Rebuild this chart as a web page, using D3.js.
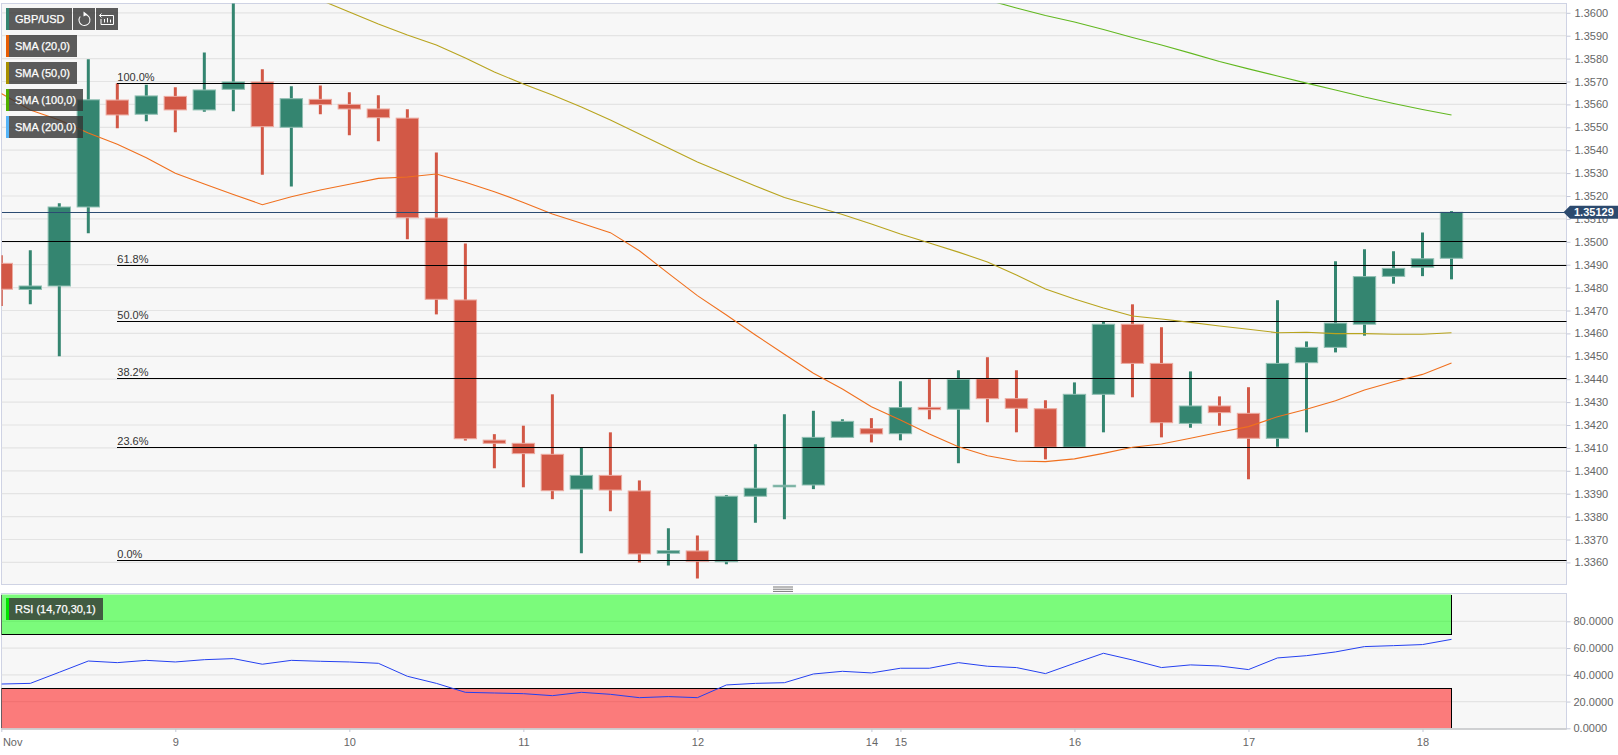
<!DOCTYPE html>
<html>
<head>
<meta charset="utf-8">
<script src="https://cdn.jsdelivr.net/npm/d3@7"></script>
<style>
    html, body { margin: 0; padding: 0; background: #fff; overflow: hidden; }
    svg { display: block; font-family: "Liberation Sans", Arial, sans-serif; }
    .axis path { display: none; }
    .axis line { stroke: #c4c8d8; }
    .axis text { fill: #666; font-size: 11px; font-family: "Liberation Sans", Arial, sans-serif; }
    .legend-text { fill: #fff; font-size: 11px; stroke: #fff; stroke-width: 0.25px; }
    .fib-label { fill: #333; font-size: 11px; }
</style>
</head>
<body>
<div id="chart"></div>
<script>
const opens = [1.34906, 1.34792, 1.34807, 1.35152, 1.35619, 1.35557, 1.35635, 1.35576, 1.35666, 1.35698,
    1.3550, 1.35622, 1.3560, 1.3558, 1.3554, 1.35104, 1.34746, 1.34134, 1.3412, 1.34072,
    1.3392, 1.3398, 1.33912, 1.3364, 1.3365, 1.33603, 1.33889, 1.3393, 1.33938, 1.34146,
    1.34184, 1.34162, 1.34277, 1.34269, 1.34402, 1.34315, 1.34271, 1.34103, 1.34334, 1.3464,
    1.34469, 1.34207, 1.34283, 1.34251, 1.34142, 1.34472, 1.34539, 1.3464, 1.34849, 1.34889, 1.34928];
const closes = [1.34793, 1.34807, 1.35152, 1.3562, 1.35554, 1.35637, 1.35576, 1.35663, 1.35698, 1.35503,
    1.35625, 1.35599, 1.3558, 1.35542, 1.35105, 1.34749, 1.3414, 1.3412, 1.34075, 1.33913,
    1.3398, 1.33916, 1.33637, 1.33651, 1.33605, 1.33889, 1.33924, 1.33937, 1.34146, 1.34216,
    1.34161, 1.34276, 1.34267, 1.3440, 1.34315, 1.34273, 1.34103, 1.34334, 1.3464, 1.34469,
    1.3421, 1.34283, 1.34254, 1.34142, 1.34469, 1.34539, 1.34645, 1.34848, 1.34884, 1.34926, 1.35129];
const highs = [1.34941, 1.34963, 1.35168, 1.35797, 1.35692, 1.35686, 1.35675, 1.35827, 1.3606, 1.35753,
    1.35679, 1.35683, 1.35653, 1.3564, 1.35579, 1.3539, 1.34993, 1.3416, 1.34197, 1.34334,
    1.34101, 1.34168, 1.33958, 1.33749, 1.33718, 1.33894, 1.34116, 1.34247, 1.34262, 1.34225,
    1.3423, 1.34391, 1.3440, 1.34439, 1.34496, 1.34439, 1.34308, 1.34386, 1.34651, 1.34727,
    1.34627, 1.34434, 1.34325, 1.34365, 1.34745, 1.34565, 1.34915, 1.34967, 1.34959, 1.35041, 1.35135];
const lows = [1.3472, 1.34727, 1.3450, 1.35037, 1.35496, 1.35526, 1.35478, 1.35568, 1.3557, 1.35293,
    1.35242, 1.35557, 1.35465, 1.35439, 1.35011, 1.34683, 1.34132, 1.34011, 1.33928, 1.33876,
    1.3364, 1.33823, 1.3360, 1.33587, 1.3353, 1.33592, 1.33773, 1.33788, 1.3392, 1.34146,
    1.34124, 1.34133, 1.34225, 1.34033, 1.34212, 1.34168, 1.3405, 1.34103, 1.34168, 1.34321,
    1.34146, 1.34188, 1.34197, 1.33963, 1.34105, 1.34168, 1.34517, 1.3459, 1.34817, 1.3485, 1.34836];

const sma20 = [1.35648, 1.35576, 1.35532, 1.35475, 1.35426, 1.35367, 1.35299, 1.35252, 1.35207, 1.35162,
    1.35197, 1.35226, 1.35251, 1.35277, 1.35283, 1.35296, 1.3526, 1.35219, 1.35172, 1.35121,
    1.35081, 1.3504, 1.34961, 1.34862, 1.34765, 1.3468, 1.34593, 1.34509, 1.34426, 1.34357,
    1.3428, 1.34222, 1.34161, 1.34105, 1.34066, 1.34043, 1.3404, 1.34052, 1.34076, 1.34103,
    1.34117, 1.34142, 1.34168, 1.34193, 1.34236, 1.34269, 1.34306, 1.34353, 1.34389, 1.34421, 1.34471];
// sma50 starts at candle 11, sma100 at candle 34, earlier values are above the visible range
const sma50Start = 11;
const sma50 = [1.36056, 1.36003, 1.35951, 1.35903, 1.35859, 1.35803, 1.35741, 1.35689, 1.35641,
    1.35589, 1.35532, 1.35471, 1.3541, 1.35348, 1.35296, 1.35244, 1.35193, 1.35156, 1.35119,
    1.35078, 1.35034, 1.34995, 1.34955, 1.34912, 1.34855, 1.34794, 1.3475, 1.34711, 1.34676,
    1.34663, 1.34648, 1.34632, 1.34618, 1.34603, 1.34605, 1.34599, 1.34599, 1.34596, 1.34596, 1.34603];
const sma100Start = 34;
const sma100 = [1.36056, 1.36021, 1.35988, 1.3596, 1.35927, 1.35892, 1.35859, 1.35824, 1.35787,
    1.35755, 1.35724, 1.35693, 1.35663, 1.35632, 1.35604, 1.35578, 1.35554];

const rsi = [33.1, 33.6, 41.9, 50.3, 49.1, 50.8, 49.6, 51.3, 52.1, 47.9,
    50.8, 50.1, 49.6, 48.6, 38.9, 33.6, 26.9, 26.4, 25.9, 24.4,
    26.9, 25.4, 22.9, 23.7, 22.9, 32.4, 33.6, 34.1, 40.6, 42.6,
    41.4, 44.9, 44.9, 49.1, 46.4, 45.4, 40.9, 48.6, 56.1, 51.1,
    45.4, 47.4, 46.6, 43.9, 52.6, 54.3, 57.1, 61.1, 61.8, 62.6, 66.5];

const fibLabels = ['100.0%', '61.8%', '50.0%', '38.2%', '23.6%', '0.0%'];
const fibLevels = [1.35692, 1.34897, 1.34653, 1.34402, 1.34103, 1.3361];
const fibStartCandle = 4;
const roundLevel = 1.3500;
const lastPrice = 1.35129;

const dateCandles = [0, 6, 12, 18, 24, 30, 31, 37, 43, 49];
const dateLabels = ['Nov', '9', '10', '11', '12', '14', '15', '16', '17', '18'];
const priceTicks = d3.range(1336, 1361).map(d => d / 1000);
const rsiTicks = [0, 20, 40, 60, 80];

const legendNames = ['SMA (20,0)', 'SMA (50,0)', 'SMA (100,0)', 'SMA (200,0)'];
const legendColors = ['#e85d04', '#a89000', '#4fb000', '#55b4f8'];

const up = '#348570';
const down = '#d25846';

function createChart() {
    const svg = d3.select('#chart').append('svg')
        .attr('width', 1618)
        .attr('height', 755);

    const plot = { left: 1.5, right: 1566.5, top: 3.5, bottom: 584.5 };
    const lower = { top: 593.5, bottom: 729 };

    const x = d3.scaleLinear().domain([0, 50]).range([1.3, 1451.5]);
    const y = d3.scaleLinear().domain([1.336, 1.36]).range([562.4, 12.8]);
    const yRsi = d3.scaleLinear().domain([0, 80]).range([728.3, 621.3]);

    const defs = svg.append('defs');
    defs.append('clipPath').attr('id', 'mainClip').append('rect')
        .attr('x', plot.left).attr('y', plot.top)
        .attr('width', plot.right - plot.left).attr('height', plot.bottom - plot.top);
    defs.append('clipPath').attr('id', 'rsiClip').append('rect')
        .attr('x', plot.left).attr('y', lower.top)
        .attr('width', plot.right - plot.left).attr('height', lower.bottom - lower.top);

    // Panel backgrounds
    svg.append('rect')
        .attr('x', plot.left).attr('y', plot.top)
        .attr('width', plot.right - plot.left).attr('height', plot.bottom - plot.top)
        .attr('fill', '#f7f7f7').attr('stroke', '#cfd3e4');
    svg.append('rect')
        .attr('x', plot.left).attr('y', lower.top)
        .attr('width', plot.right - plot.left).attr('height', lower.bottom - lower.top)
        .attr('fill', '#f7f7f7').attr('stroke', '#cfd3e4');

    const main = svg.append('g').attr('clip-path', 'url(#mainClip)');

    // Grid
    main.selectAll('.grid')
        .data(priceTicks)
        .enter().append('line')
        .attr('x1', plot.left).attr('x2', plot.right)
        .attr('y1', d => y(d)).attr('y2', d => y(d))
        .attr('stroke', '#e4e4e4').attr('stroke-width', 1.2);

    // Candles
    const candles = main.selectAll('.candle')
        .data(opens.map((o, i) => ({ i, o, c: closes[i], h: highs[i], l: lows[i] })))
        .enter().append('g');

    candles.append('line')
        .attr('x1', d => x(d.i)).attr('x2', d => x(d.i))
        .attr('y1', d => y(d.h)).attr('y2', d => y(d.l))
        .attr('stroke', d => d.c >= d.o ? up : down)
        .attr('stroke-width', 3);

    candles.append('rect')
        .attr('x', d => x(d.i) - 11.2)
        .attr('width', 22.4)
        .attr('y', d => y(Math.max(d.o, d.c)))
        .attr('height', d => Math.abs(y(d.o) - y(d.c)))
        .attr('fill', d => d.c >= d.o ? up : down)
        .attr('stroke', d => d.c >= d.o ? '#8fbfb2' : '#ecaaa0')
        .attr('stroke-width', 1);

    // Fibonacci levels
    main.selectAll('.fib')
        .data(fibLevels)
        .enter().append('line')
        .attr('x1', x(fibStartCandle)).attr('x2', plot.right)
        .attr('y1', d => y(d)).attr('y2', d => y(d))
        .attr('stroke', '#000').attr('stroke-width', 1)
        .attr('shape-rendering', 'crispEdges');

    svg.selectAll('.fib-label')
        .data(fibLabels)
        .enter().append('text')
        .attr('class', 'fib-label')
        .attr('x', x(fibStartCandle))
        .attr('y', (d, i) => y(fibLevels[i]) - 2.5)
        .text(d => d);

    main.append('line')
        .attr('x1', plot.left).attr('x2', plot.right)
        .attr('y1', y(roundLevel)).attr('y2', y(roundLevel))
        .attr('stroke', '#000').attr('stroke-width', 1)
        .attr('shape-rendering', 'crispEdges');

    // Moving averages
    const line = d3.line().x(d => x(d.i)).y(d => y(d.v));
    const series = [
        { start: 0, values: sma20, color: '#f0701e' },
        { start: sma50Start, values: sma50, color: '#b8a41e' },
        { start: sma100Start, values: sma100, color: '#62b820' }
    ];
    series.forEach(s => {
        main.append('path')
            .datum(s.values.map((v, k) => ({ i: s.start + k, v })))
            .attr('fill', 'none')
            .attr('stroke', s.color)
            .attr('stroke-width', 1.1)
            .attr('d', line);
    });

    // Last price line
    main.append('line')
        .attr('x1', plot.left).attr('x2', plot.right)
        .attr('y1', y(lastPrice)).attr('y2', y(lastPrice))
        .attr('stroke', '#2b4b72').attr('stroke-width', 1)
        .attr('shape-rendering', 'crispEdges');

    // Axes
    svg.append('g')
        .attr('class', 'axis')
        .attr('transform', `translate(${plot.right},0)`)
        .call(d3.axisRight(y).tickValues(priceTicks).tickFormat(d3.format('.4f')).tickSize(4).tickPadding(4));

    svg.append('g')
        .attr('class', 'axis')
        .attr('transform', `translate(${plot.right},0)`)
        .call(d3.axisRight(yRsi).tickValues(rsiTicks).tickFormat(d3.format('.4f')).tickSize(4).tickPadding(3));

    const xAxis = svg.append('g')
        .attr('class', 'axis')
        .attr('transform', `translate(0,${lower.bottom})`)
        .call(d3.axisBottom(x).tickValues(dateCandles)
            .tickFormat((d, i) => dateLabels[i]).tickSize(3).tickPadding(6));
    xAxis.selectAll('text').filter((d, i) => i === 0)
        .attr('text-anchor', 'start')
        .attr('dx', '0.1em');

    // Last price tag
    const tagY = y(lastPrice);
    svg.append('path')
        .attr('d', `M1563.5,${tagY} L1570,${tagY - 6.5} H1618 V${tagY + 6.5} H1570 Z`)
        .attr('fill', '#2c4a6e');
    svg.append('text')
        .attr('x', 1574)
        .attr('y', tagY + 4)
        .attr('fill', '#fff')
        .attr('font-size', 11)
        .attr('font-weight', 'bold')
        .text(d3.format('.5f')(lastPrice));

    // RSI panel
    const rsiPanel = svg.append('g').attr('clip-path', 'url(#rsiClip)');
    rsiPanel.selectAll('.rsi-grid')
        .data(rsiTicks.slice(1))
        .enter().append('line')
        .attr('x1', plot.left).attr('x2', plot.right)
        .attr('y1', d => yRsi(d)).attr('y2', d => yRsi(d))
        .attr('stroke', '#e4e4e4').attr('stroke-width', 1.2);

    const bandRight = x(50);
    rsiPanel.append('rect')
        .attr('x', plot.left).attr('y', yRsi(100))
        .attr('width', bandRight - plot.left).attr('height', yRsi(70) - yRsi(100))
        .attr('fill', '#00ff00').attr('opacity', 0.5);
    rsiPanel.append('rect')
        .attr('x', plot.left).attr('y', yRsi(30))
        .attr('width', bandRight - plot.left).attr('height', yRsi(0) - yRsi(30))
        .attr('fill', '#ff0000').attr('opacity', 0.5);

    const bandEdge = d3.path();
    bandEdge.moveTo(plot.left, yRsi(100));
    bandEdge.lineTo(plot.left, yRsi(70));
    bandEdge.lineTo(bandRight, yRsi(70));
    bandEdge.lineTo(bandRight, yRsi(100));
    bandEdge.moveTo(plot.left, yRsi(0));
    bandEdge.lineTo(plot.left, yRsi(30));
    bandEdge.lineTo(bandRight, yRsi(30));
    bandEdge.lineTo(bandRight, yRsi(0));
    rsiPanel.append('path')
        .attr('d', bandEdge.toString())
        .attr('fill', 'none')
        .attr('stroke', '#000')
        .attr('stroke-width', 1)
        .attr('shape-rendering', 'crispEdges');

    rsiPanel.append('path')
        .datum(rsi)
        .attr('fill', 'none')
        .attr('stroke', '#2440f0')
        .attr('stroke-width', 1)
        .attr('d', d3.line().x((d, i) => x(i)).y(d => yRsi(d)));

    svg.append('line')
        .attr('x1', plot.left).attr('x2', plot.right)
        .attr('y1', lower.bottom).attr('y2', lower.bottom)
        .attr('stroke', '#c8c8c8').attr('stroke-width', 1.5);

    // Splitter handle
    [587, 589.2, 591.4].forEach(v => {
        svg.append('line')
            .attr('x1', 773).attr('x2', 793)
            .attr('y1', v).attr('y2', v)
            .attr('stroke', '#777').attr('stroke-width', 1);
    });

    drawLegend(svg);
}

function drawLegend(svg) {
    const boxFill = 'rgba(51,51,51,0.8)';

    // Symbol row with its two buttons
    svg.append('rect').attr('x', 6).attr('y', 8).attr('width', 3).attr('height', 22).attr('fill', up);
    svg.append('rect').attr('x', 9).attr('y', 8).attr('width', 63).attr('height', 22).attr('fill', boxFill);
    svg.append('text').attr('class', 'legend-text').attr('x', 15).attr('y', 23).text('GBP/USD');
    svg.append('rect').attr('x', 73).attr('y', 8).attr('width', 22).attr('height', 22).attr('fill', boxFill);
    svg.append('rect').attr('x', 96).attr('y', 8).attr('width', 22).attr('height', 22).attr('fill', boxFill);

    const refresh = d3.arc()({ innerRadius: 5, outerRadius: 6, startAngle: 0.1, endAngle: 5.4 });
    svg.append('path')
        .attr('transform', 'translate(84.5,20)')
        .attr('d', refresh)
        .attr('fill', '#fff');
    svg.append('path')
        .attr('d', 'M83.5,11.5 L87.5,14.5 L83.5,16.5 Z')
        .attr('fill', '#fff');

    svg.append('path')
        .attr('d', 'M103,15.5 H113.5 V24.5 H101 V19 M99.5,15.5 H103 M101.5,13.5 L99.5,15.5 L101.5,17.5 M104.5,19 V22.5 M107.5,18 V22.5 M110.5,19.5 V22.5')
        .attr('fill', 'none')
        .attr('stroke', '#fff')
        .attr('stroke-width', 1);

    // Indicator rows
    legendNames.forEach((name, i) => {
        const top = 35 + i * 27;
        const boxWidth = i < 2 ? 68 : 74;
        svg.append('rect').attr('x', 6).attr('y', top).attr('width', 3).attr('height', 22).attr('fill', legendColors[i]);
        svg.append('rect').attr('x', 9).attr('y', top).attr('width', boxWidth).attr('height', 22).attr('fill', boxFill);
        svg.append('text').attr('class', 'legend-text').attr('x', 15).attr('y', top + 15).text(name);
    });

    // RSI row
    svg.append('rect').attr('x', 6).attr('y', 598).attr('width', 3).attr('height', 22).attr('fill', '#00e400');
    svg.append('rect').attr('x', 9).attr('y', 598).attr('width', 94).attr('height', 22).attr('fill', boxFill);
    svg.append('text').attr('class', 'legend-text').attr('x', 15).attr('y', 613).text('RSI (14,70,30,1)');
}

createChart();
</script>
</body>
</html>
